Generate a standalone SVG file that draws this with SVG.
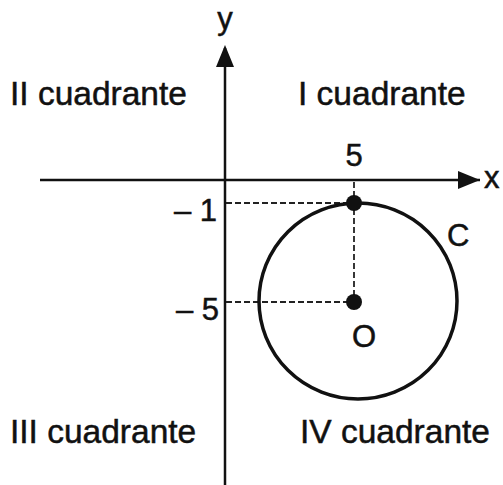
<svg xmlns="http://www.w3.org/2000/svg" width="503" height="485" viewBox="0 0 503 485">
<style>
text{font-family:"Liberation Sans",Arial,sans-serif;fill:#111;stroke:#111;stroke-width:0.5}
.q{font-size:33.5px}
.l{font-size:31px}
.axis{stroke:#111;stroke-width:2.5;fill:none}
.dash{stroke:#222;stroke-width:1.8;stroke-dasharray:6 3;fill:none}
</style>
<rect width="503" height="485" fill="#fff"/>
<g id="connectors">
<line class="axis" x1="40" y1="180" x2="480" y2="180"/>
<polygon points="480,180 458,171 458,189" fill="#111"/>
<line class="axis" x1="225" y1="485" x2="225" y2="48"/>
<polygon points="225,45 216,67 234,67" fill="#111"/>
<path class="dash" d="M226,203 H354 M226,302 H354 M354,182 V302"/>
</g>
<g id="circle-C">
<ellipse cx="358" cy="301" rx="99" ry="98" fill="none" stroke="#111" stroke-width="3.5"/>
<text class="l" x="447" y="246">C</text>
</g>
<g id="point-top">
<circle cx="354" cy="203" r="8" fill="#111"/>
</g>
<g id="point-O">
<circle cx="354" cy="302" r="8" fill="#111"/>
<text class="l" x="352" y="347">O</text>
</g>
<g id="labels">
<text class="l" x="225" y="29" text-anchor="middle">y</text>
<text class="l" x="484" y="188">x</text>
<text class="l" x="354" y="166" text-anchor="middle">5</text>
<text class="l" x="217" y="221" text-anchor="end">– 1</text>
<text class="l" x="219" y="320" text-anchor="end">– 5</text>
<text class="q" x="10" y="105">II cuadrante</text>
<text class="q" x="298" y="105">I cuadrante</text>
<text class="q" x="10" y="443">III cuadrante</text>
<text class="q" x="300" y="443">IV cuadrante</text>
</g>
</svg>
